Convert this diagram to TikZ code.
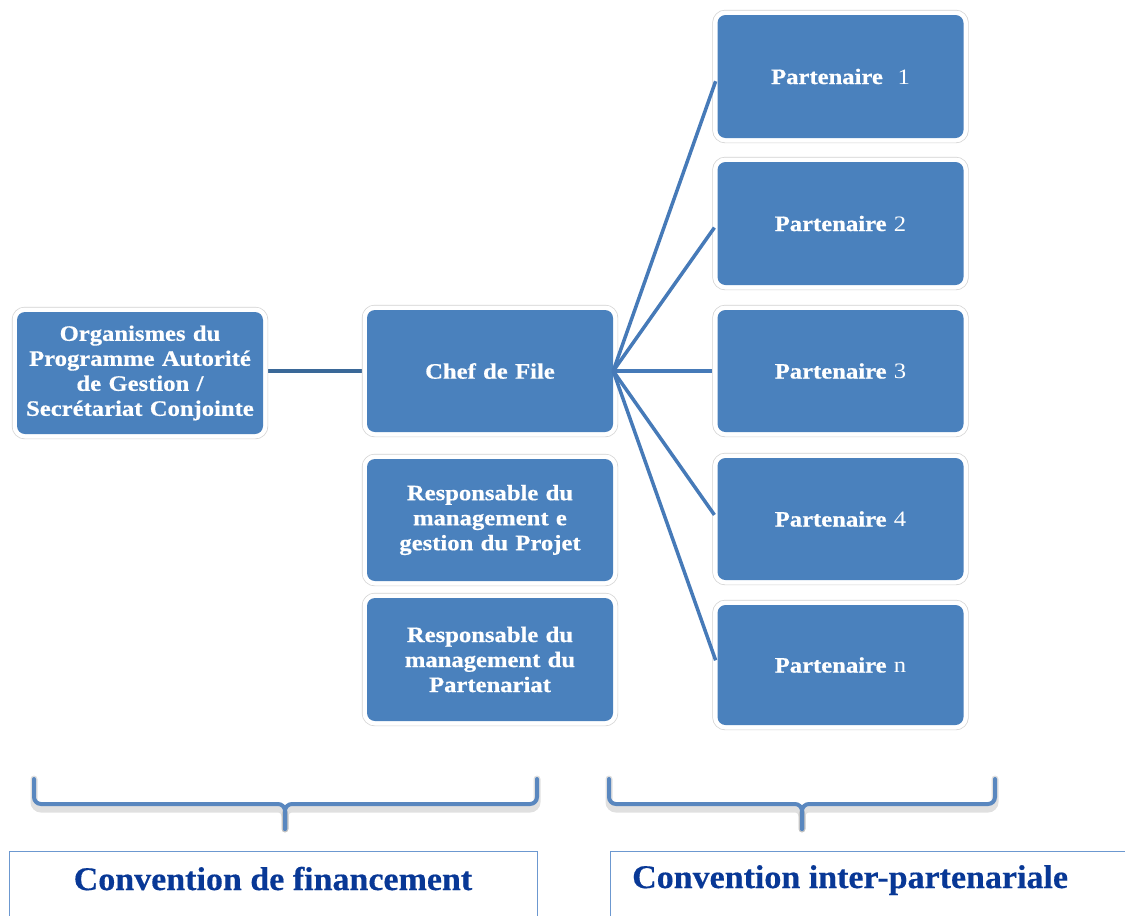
\documentclass[tikz,border=0pt]{standalone}
\usepackage{fontspec}
\setmainfont{Liberation Serif}
\newfontfamily\boxfont[FakeStretch=1.12, BoldFeatures={FakeBold=0.6}]{Liberation Serif}
\newfontfamily\convfont[FakeStretch=1.03, BoldFeatures={FakeBold=0.4}]{Liberation Serif}
\usetikzlibrary{backgrounds}
\definecolor{boxblue}{RGB}{74,129,189}
\definecolor{lineblue}{RGB}{70,122,184}
\definecolor{darkline}{RGB}{58,104,152}
\definecolor{convtext}{RGB}{8,56,150}
\definecolor{convborder}{RGB}{108,152,208}
\definecolor{halo}{RGB}{210,210,210}
\tikzset{
  bluebox/.style={rectangle, rounded corners=8pt, fill=boxblue, text=white,
    minimum width=246pt, minimum height=122pt, inner sep=0pt, align=center,
    text width=236pt, font=\boxfont\bfseries\fontsize{22}{25}\selectfont,
    preaction={draw=halo, double=white, double distance=9pt, line width=0.7pt}},
  fanline/.style={draw=lineblue, line width=3.5pt, shorten >=5pt},
  mainline/.style={draw=darkline, line width=4pt},
  bracestyle/.style={draw=lineblue!90!white, line width=4pt, line cap=round, rounded corners=7pt},
  braceshadow/.style={draw=black, opacity=0.12, line width=7pt, line cap=round, rounded corners=7pt},
  convbox/.style={rectangle, draw=convborder, line width=1.2pt, inner sep=0pt},
  convlabel/.style={text=convtext, font=\convfont\bfseries\fontsize{33}{36}\selectfont, inner sep=0pt}
}
\begin{document}
\begin{tikzpicture}[x=1pt,y=-1pt]
\clip (0,0) rectangle (1125,916);

% boxes
\node[bluebox] (org) at (140,373) {Organismes du\\Programme Autorité\\de Gestion /\\Secrétariat Conjointe};
\node[bluebox] (chef) at (490,371) {Chef de File};
\node[bluebox] (resp1) at (490,520) {Responsable du\\management e\\gestion du Projet};
\node[bluebox, minimum height=123pt] (resp2) at (490,659.5) {Responsable du\\management du\\Partenariat};
\node[bluebox, minimum height=123pt] (p1) at (840.5,76.5) {Partenaire\ \ {\mdseries 1}};
\node[bluebox, minimum height=123pt] (p2) at (840.5,223.5) {Partenaire {\mdseries 2}};
\node[bluebox] (p3) at (840.5,371) {Partenaire {\mdseries 3}};
\node[bluebox] (p4) at (840.5,519) {Partenaire {\mdseries 4}};
\node[bluebox, minimum height=120pt] (pn) at (840.5,665) {Partenaire {\mdseries n}};

% connectors
\begin{scope}[on background layer]
  \fill[white] (0,0) rectangle (1125,916);
  \draw[mainline] (org.east |- chef.west) -- (chef.west);
\end{scope}
\draw[fanline] (chef.east) -- (p1.west);
\draw[fanline] (chef.east) -- (p2.west);
\draw[fanline] (chef.east) -- (p3.west);
\draw[fanline] (chef.east) -- (p4.west);
\draw[fanline] (chef.east) -- (pn.west);

% braces
\coordinate (la) at (34,779);
\coordinate (lb) at (537,779);
\coordinate (lt) at (285,829);
\coordinate (ra) at (609,779);
\coordinate (rb) at (995,779);
\coordinate (rt) at (802,829);
\begin{scope}[shift={(2,5)}]
  \draw[braceshadow] (la) |- (lt |- 0,804) -- (lt);
  \draw[braceshadow] (lb) |- (lt |- 0,804) -- (lt);
  \draw[braceshadow] (ra) |- (rt |- 0,804) -- (rt);
  \draw[braceshadow] (rb) |- (rt |- 0,804) -- (rt);
\end{scope}
\draw[bracestyle] (la) |- (lt |- 0,804) -- (lt);
\draw[bracestyle] (lb) |- (lt |- 0,804) -- (lt);
\draw[bracestyle] (ra) |- (rt |- 0,804) -- (rt);
\draw[bracestyle] (rb) |- (rt |- 0,804) -- (rt);

% convention boxes
\node[convbox, anchor=north west, minimum width=528pt, minimum height=80pt] (cfbox) at (9,851) {};
\node[convlabel, anchor=base] (cf) at (273,890) {Convention de financement};
\node[convbox, anchor=north west, minimum width=530pt, minimum height=80pt] (cibox) at (610,851) {};
\node[convlabel, anchor=base west] (ci) at (632,888) {Convention inter-partenariale};
\end{tikzpicture}
\end{document}
